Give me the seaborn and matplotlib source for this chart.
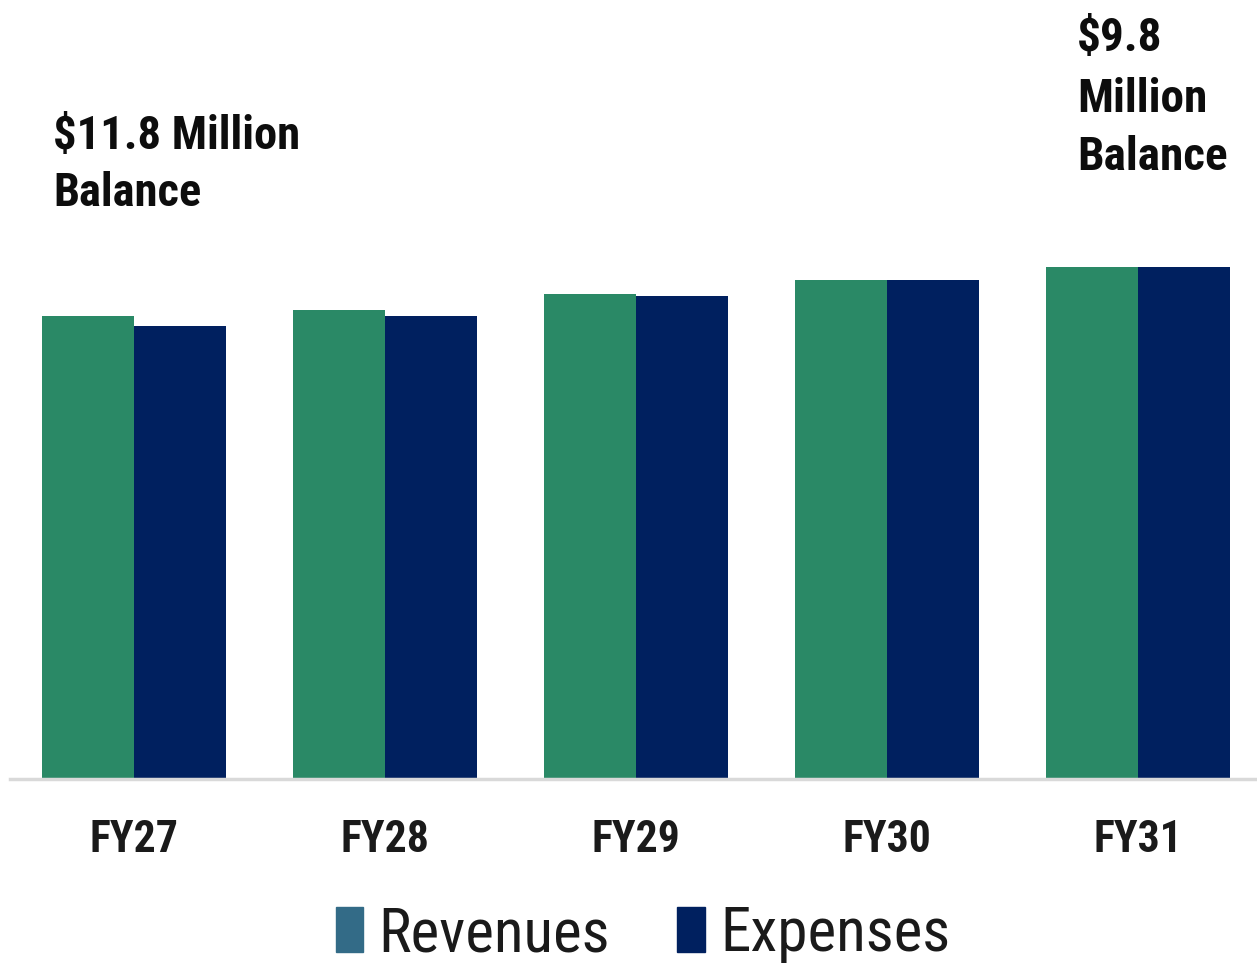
import pandas as pd
import matplotlib.pyplot as plt
import seaborn as sns
from matplotlib.patches import Patch

# Data (relative bar heights, no axis shown)
years = ['FY27', 'FY28', 'FY29', 'FY30', 'FY31']
revenues = [46.3, 46.9, 48.5, 49.9, 51.2]
expenses = [45.3, 46.3, 48.3, 49.9, 51.2]

df = pd.DataFrame({
    'Year': years * 2,
    'Series': ['Revenues'] * 5 + ['Expenses'] * 5,
    'Value': revenues + expenses,
})

sns.set_style('white')
font = ['Liberation Sans Narrow', 'Arial Narrow', 'Roboto Condensed',
        'PT Sans Narrow', 'Archivo Narrow', 'DejaVu Sans']
plt.rcParams['font.family'] = font

fig = plt.figure(figsize=(12.57, 9.71), dpi=100)
ax = fig.add_axes([10 / 1257, 1 - 779 / 971, 1 - 10 / 1257, 779 / 971])

sns.barplot(data=df, x='Year', y='Value', hue='Series',
            palette={'Revenues': '#2a8966', 'Expenses': '#00205f'},
            width=0.733, saturation=1, legend=False, linewidth=0, ax=ax)

ax.set_ylim(0, 77.9)
ax.set_xlim(-0.494, 4.474)
ax.set_xlabel('')
ax.set_ylabel('')
ax.set_yticks([])
for s in ['top', 'left', 'right']:
    ax.spines[s].set_visible(False)
ax.spines['bottom'].set_color('#d9d9d9')
ax.spines['bottom'].set_linewidth(2.5)
ax.tick_params(axis='x', length=0, pad=29)
for lbl in ax.get_xticklabels():
    lbl.set_fontsize(31.5)
    lbl.set_fontweight('bold')
    lbl.set_color('#1a1a1a')

# Balance annotations
def note(lines, x, baselines, size):
    for t, yb in zip(lines, baselines):
        fig.text(x / 1257, 1 - yb / 971, t, fontsize=size, fontweight='bold',
                 color='#0d0d0d', va='baseline', ha='left')

note(['$11.8 Million', 'Balance'], 53, [149, 206], 33.5)
note(['$9.8', 'Million', 'Balance'], 1077, [51, 112, 170], 34)

handles = [Patch(color='#336b87', label='Revenues'),
           Patch(color='#00205f', label='Expenses')]
fig.legend(handles=handles, loc='center', bbox_to_anchor=(643 / 1257, 1 - 934 / 971),
           ncol=2, frameon=False, fontsize=44, handlelength=0.45, handleheight=0.75,
           handletextpad=0.25, columnspacing=1.1, labelcolor='#1a1a1a')

fig.savefig('out.png', dpi=100)
